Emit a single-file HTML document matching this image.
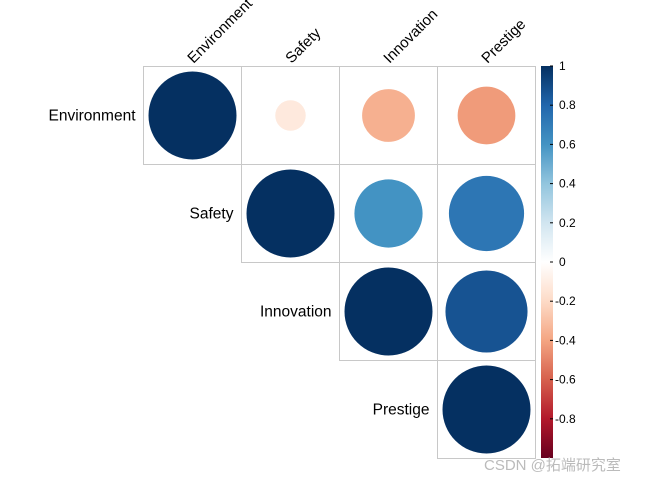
<!DOCTYPE html>
<html><head><meta charset="utf-8"><style>
body{margin:0;background:#fff;width:672px;height:480px;overflow:hidden;font-family:"Liberation Sans",sans-serif}
svg text{font-family:"Liberation Sans",sans-serif}
</style></head><body>
<svg id="c" width="672" height="480"></svg>
<script>
const vars=["Environment","Safety","Innovation","Prestige"];
const rowIdx=[0,0,0,0,1,1,1,2,2,3];
const colIdx=[0,1,2,3,1,2,3,2,3,3];
const corrValues=[1,-0.12,-0.36,-0.43,1,0.6,0.73,1,0.87,1];
const barTicks=[1,0.8,0.6,0.4,0.2,0,-0.2,-0.4,-0.6,-0.8];
const NS="http://www.w3.org/2000/svg";
const svg=document.getElementById('c');
const x0=143.5,y0=66.5,cs=98,R=44;
const pal=["#67001F","#B2182B","#D6604D","#F4A582","#FDDBC7","#FFFFFF","#D1E5F0","#92C5DE","#4393C3","#2166AC","#053061"];
function hex(h){return [1,3,5].map(i=>parseInt(h.substr(i,2),16));}
function col(v){let t=(v+1)/2*10;let i=Math.min(9,Math.floor(t)),f=t-i;let a=hex(pal[i]),b=hex(pal[i+1]);return `rgb(${a.map((c,k)=>Math.round(c+(b[k]-c)*f)).join(',')})`;}
function mk(t,at){const e=document.createElementNS(NS,t);for(const k in at)e.setAttribute(k,at[k]);svg.appendChild(e);return e;}
for(let r=0;r<4;r++)for(let c=r;c<4;c++){
 const e=mk('rect',{x:x0+c*cs,y:y0+r*cs,width:cs,height:cs,fill:'none',stroke:'#c8c8c8','stroke-width':1});
 
}
corrValues.forEach((v,i)=>{
 const r=rowIdx[i],c=colIdx[i];
 const e=mk('circle',{cx:x0+c*cs+cs/2,cy:y0+r*cs+cs/2,r:R*Math.sqrt(Math.abs(v)),fill:col(v)});
 
});
vars.forEach((n,i)=>{
 const t=mk('text',{x:x0+i*cs-8,y:y0+i*cs+cs/2+5,'text-anchor':'end','font-size':15.5,fill:'#000'});t.textContent=n;
 
 const cx=x0+i*cs+cs/2+1,cy=64;
 const u=mk('text',{x:cx,y:cy,'font-size':15,fill:'#000',transform:`rotate(-45 ${cx} ${cy})`});u.textContent=n;
 
});
const bx=541,by0=66,by1=458,bw=12;
const defs=mk('defs',{});
const g=document.createElementNS(NS,'linearGradient');g.setAttribute('id','gr');g.setAttribute('x1','0');g.setAttribute('y1','1');g.setAttribute('x2','0');g.setAttribute('y2','0');
pal.forEach((p,i)=>{const s=document.createElementNS(NS,'stop');s.setAttribute('offset',i/10);s.setAttribute('stop-color',p);g.appendChild(s);});
defs.appendChild(g);
const cb=mk('rect',{x:bx,y:by0,width:bw,height:by1-by0,fill:'url(#gr)'});

const ys=v=>by1-(v+1)/2*(by1-by0);
barTicks.forEach(v=>{
 const y=ys(v);
 const l=mk('line',{x1:bx+bw-3,x2:bx+bw,y1:y,y2:y,stroke:'#000'});
 
 const t=mk('text',{x:v<0?bx+bw+2:bx+bw+6,y:y+4,'font-size':12,fill:'#000'});t.textContent=String(v);
 
});
const w=mk('text',{x:484,y:470,'font-size':15,fill:'#bbb'});w.textContent="CSDN @拓端研究室";

</script>
</body></html>
